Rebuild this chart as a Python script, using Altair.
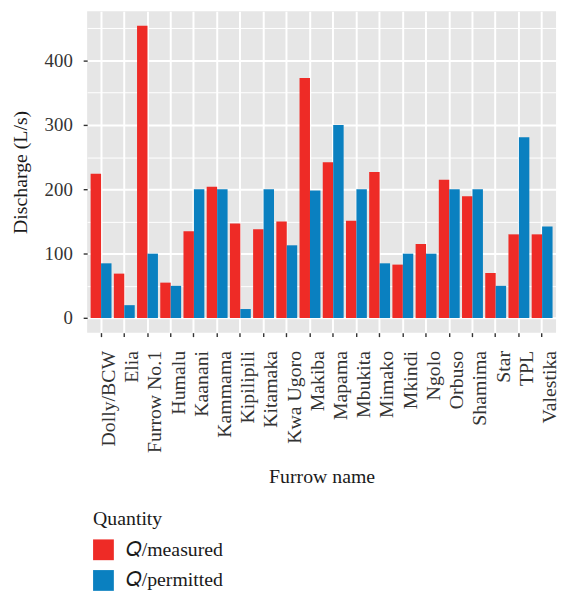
import altair as alt
import pandas as pd

furrows = ["Dolly/BCW", "Elia", "Furrow No.1", "Humalu", "Kaanani", "Kammama",
           "Kipilipili", "Kitamaka", "Kwa Ugoro", "Makiba", "Mapama", "Mbukita",
           "Mimako", "Mkindi", "Ngolo", "Orbuso", "Shamima", "Star", "TPL", "Valestika"]
measured = [224, 69, 454, 55, 135, 204, 147, 138, 150, 373, 242, 151, 227, 83, 115, 215, 189, 70, 130, 130]
permitted = [85, 20, 100, 50, 200, 200, 14, 200, 113, 198, 300, 200, 85, 100, 100, 200, 200, 50, 281, 142]
quantities = ["\U0001D444/measured", "\U0001D444/permitted"]
colors = ["#ee2b26", "#0a80c0"]
y_ticks = [0, 50, 100, 150, 200, 250, 300, 350, 400, 450]

rows = []
for f, m, p in zip(furrows, measured, permitted):
    rows.append({"Furrow": f, "Quantity": quantities[0], "Discharge": m})
    rows.append({"Furrow": f, "Quantity": quantities[1], "Discharge": p})
df = pd.DataFrame(rows)

FONT = "Liberation Serif"
major = "datum.value % 100 == 0"

chart = alt.Chart(df).mark_bar().encode(
    x=alt.X("Furrow:N", sort=furrows, title="Furrow name",
            scale=alt.Scale(paddingInner=0.1, paddingOuter=0.15),
            axis=alt.Axis(labelAngle=-90, labelBaseline="top", labelAlign="right",
                          labelOffset=-2, labelPadding=14, titlePadding=14,
                          labelFontSize=20,
                          grid=True, gridColor="white", gridWidth=2,
                          ticks=True, tickSize=4, tickColor="#333333", tickWidth=1.4,
                          domain=False, bandPosition=0.5)),
    xOffset=alt.XOffset("Quantity:N", sort=quantities,
                        scale=alt.Scale(paddingInner=0, paddingOuter=0)),
    y=alt.Y("Discharge:Q", title="Discharge (L/s)", stack=None,
            scale=alt.Scale(domain=[-22.7, 476.7], nice=False, zero=False),
            axis=alt.Axis(values=y_ticks,
                          labelExpr="datum.value % 100 == 0 ? datum.label : ''",
                          grid=True, gridColor="white",
                          gridWidth={"condition": {"test": major, "value": 2}, "value": 1},
                          tickWidth={"condition": {"test": major, "value": 1.4}, "value": 0},
                          tickSize=4, tickColor="#333333",
                          labelPadding=11, titlePadding=14, domain=False)),
    y2=alt.datum(0),
    color=alt.Color("Quantity:N", sort=quantities,
                    scale=alt.Scale(domain=quantities, range=colors),
                    legend=alt.Legend(title="Quantity", orient="none", legendX=6, legendY=503,
                                      direction="vertical", symbolType="square",
                                      symbolSize=441, symbolStrokeWidth=0,
                                      labelOffset=12, rowPadding=10, titlePadding=11,
                                      padding=0, labelFontSize=20, titleFontSize=20,
                                      titleFont=FONT, labelFont=FONT,
                                      titleFontWeight="normal", titleColor="#1a1a1a",
                                      labelColor="#1a1a1a")),
).properties(
    width=474, height=325
).configure_view(
    fill="#e6e6e6", stroke=None
).configure_axis(
    labelFont=FONT, titleFont=FONT, labelFontSize=19, titleFontSize=20,
    labelColor="#333333", titleColor="#1a1a1a", titleFontWeight="normal"
).properties(padding={"left": 2, "top": 0, "right": 0, "bottom": 0})

chart.save("out.html", embed_options={"renderer": "svg", "actions": False})
